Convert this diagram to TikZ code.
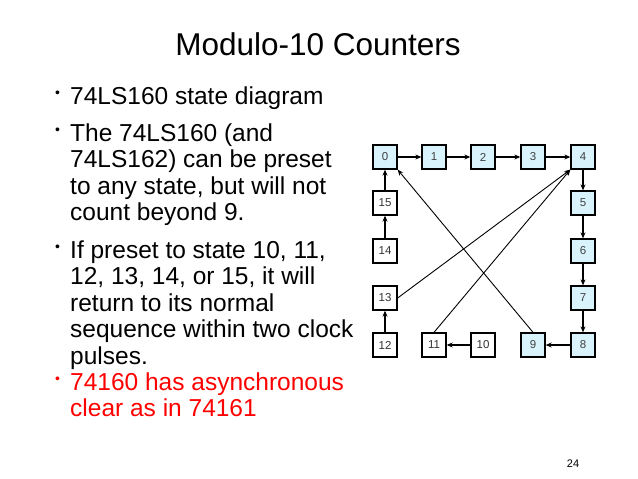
\documentclass[tikz,border=0pt]{standalone}
\usepackage{fontspec}
\setmainfont{Liberation Sans}
\usetikzlibrary{arrows.meta}
\begin{document}
\begin{tikzpicture}[x=1pt,y=-1pt,
  st/.style={draw,line width=1.3pt,minimum width=24pt,minimum height=24pt,inner sep=0pt,font=\fontsize{11.5}{13}\selectfont},
  on/.style={st,fill=cyan!15!white,text=black!75},
  off/.style={st,fill=white,text=black!80},
  ar/.style={line width=1.2pt,-{Stealth[length=6pt,width=5pt]}},
  tx/.style={anchor=base west,inner sep=0pt,font=\fontsize{24.5}{26}\selectfont},
  bl/.style={anchor=base west,inner sep=0pt,font=\fontsize{14}{16}\selectfont}]
\useasboundingbox (0,0) rectangle (638,479);
\node[font=\fontsize{31.5}{34}\selectfont,anchor=base] (title) at (318,56) {Modulo-10 Counters};
\node[bl] (b1) at (55,97) {\textbullet};
\node[tx] (t1) at (70,104) {74LS160 state diagram};
\node[bl] (b2) at (55,134) {\textbullet};
\node[tx] (t2) at (70,141) {The 74LS160 (and};
\node[tx] (t3) at (70,167.5) {74LS162) can be preset};
\node[tx] (t4) at (70,194) {to any state, but will not};
\node[tx] (t5) at (70,220.5) {count beyond 9.};
\node[bl] (b3) at (55,251) {\textbullet};
\node[tx] (t6) at (70,258) {If preset to state 10, 11,};
\node[tx] (t7) at (70,284.5) {12, 13, 14, or 15, it will};
\node[tx] (t8) at (70,311) {return to its normal};
\node[tx] (t9) at (70,337.5) {sequence within two clock};
\node[tx] (t10) at (70,364) {pulses.};
\node[bl,text=red] (b4) at (55,383) {\textbullet};
\node[tx,text=red] (t11) at (70,390) {74160 has asynchronous};
\node[tx,text=red] (t12) at (70,416.5) {clear as in 74161};
\node[anchor=base,font=\fontsize{11}{13}\selectfont] (pg) at (573,467) {24};
% states
\node[on] (s0) at (385,157) {0};
\node[on] (s1) at (434,157) {1};
\node[on] (s2) at (483,157) {2};
\node[on] (s3) at (533,157) {3};
\node[on] (s4) at (583,157) {4};
\node[on] (s5) at (583,203) {5};
\node[on] (s6) at (583,251) {6};
\node[on] (s7) at (583,298) {7};
\node[on] (s8) at (583,345) {8};
\node[on] (s9) at (533,345) {9};
\node[off] (s10) at (483,345) {10};
\node[off] (s11) at (434,345) {11};
\node[off] (s12) at (385,345) {12};
\node[off] (s13) at (385,298) {13};
\node[off] (s14) at (385,251) {14};
\node[off] (s15) at (385,203) {15};
\draw[ar] (s0) -- (s1);
\draw[ar] (s1) -- (s2);
\draw[ar] (s2) -- (s3);
\draw[ar] (s3) -- (s4);
\draw[ar] (s4) -- (s5);
\draw[ar] (s5) -- (s6);
\draw[ar] (s6) -- (s7);
\draw[ar] (s7) -- (s8);
\draw[ar] (s8) -- (s9);
\draw[ar] (s10) -- (s11);
\draw[ar] (s12) -- (s13);
\draw[ar] (s14) -- (s15);
\draw[ar] (s15) -- (s0);
\draw[ar,line width=0.9pt] (s13.east) -- (s4.south west);
\draw[ar,line width=0.9pt] (s11.north) -- (s4.south west);
\draw[ar,line width=0.9pt] (s9.north) -- (s0.south east);
\end{tikzpicture}
\end{document}
